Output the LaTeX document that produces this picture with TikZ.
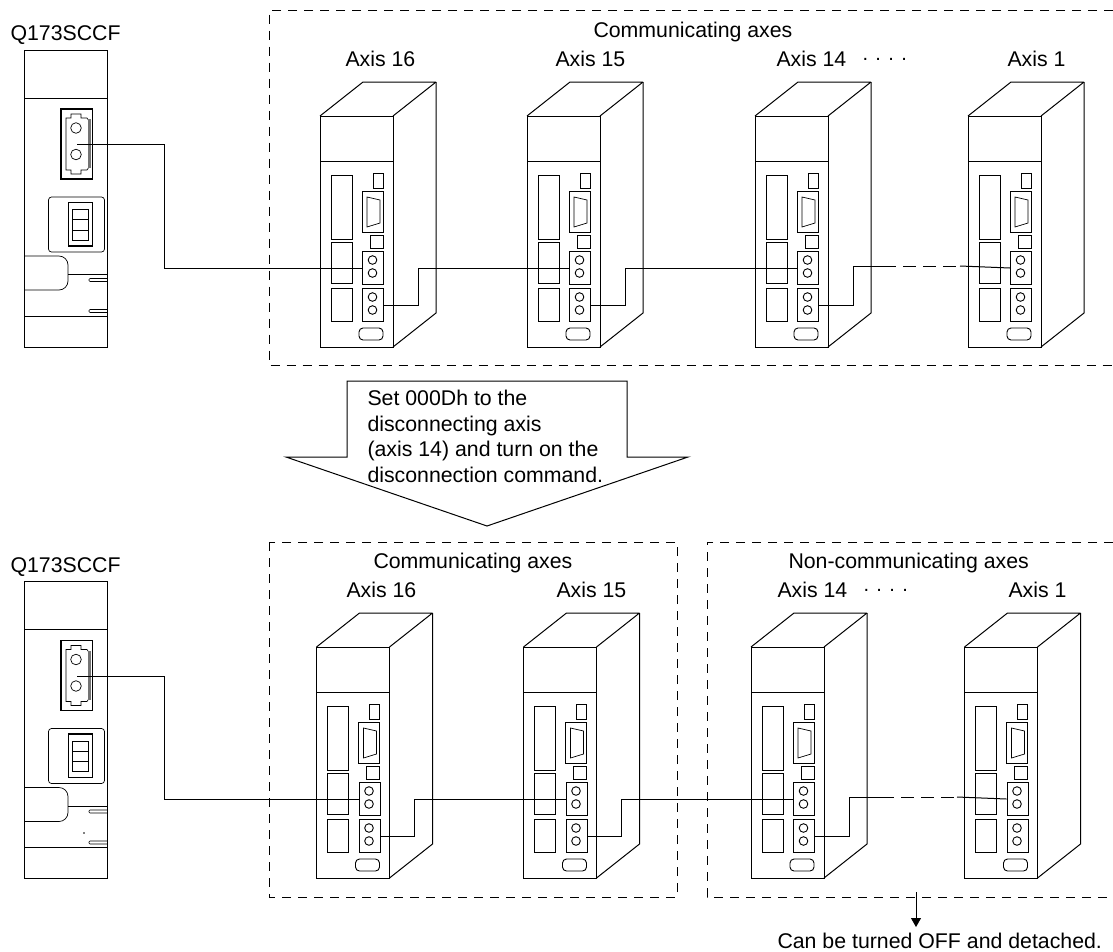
\documentclass[tikz,border=0pt]{standalone}
\usepackage{fontspec}
\setmainfont{Liberation Sans}
\usetikzlibrary{arrows.meta}

\begin{document}
\begin{tikzpicture}[
  x=1pt, y=-1pt,
  line width=1pt,
  texto/.style={font=\fontsize{21.3}{25.6}\selectfont, anchor=base west, inner sep=0pt},
  pontos/.style={font=\fontsize{20}{24}\selectfont, anchor=base west, inner sep=0pt},
  conector/.style={draw, rectangle, minimum width=21pt, minimum height=33pt, inner sep=0pt, anchor=north west},
  fio/.style={line width=1pt},
  tracejado/.style={line width=1pt, dash pattern=on 13pt off 7pt, dash phase=11pt},
  zona/.style={line width=0.8pt, dash pattern=on 9pt off 7pt},
  seta/.style={-{Triangle[length=9pt,width=10pt]}, line width=0.8pt},
  axisunit/.pic={
    \draw (0,0) rectangle (73,231);
    \draw[line join=bevel] (0,0) -- (43,-34) -- (116,-34) -- (73,0);
    \draw (116,-34) -- (116,197) -- (73,231);
    \draw (0,45) -- (73,45);
    % left slots
    \draw[line width=0.9pt] (11,59) rectangle (32,123);
    \draw[line width=0.9pt] (11,126) rectangle (32,167);
    \draw[line width=0.9pt] (11,172) rectangle (32,205);
    % right column
    \draw[line width=0.9pt] (53,57) rectangle (63,72);
    \draw[line width=0.9pt] (42,75) rectangle (63,116);
    \draw[line width=0.7pt] (47,81) -- (60,84) -- (60,107) -- (47,111) -- cycle;
    \draw[line width=0.9pt] (50,119) rectangle (63,132);
    \node[conector] (-in) at (42,135) {};
    \draw[line width=0.9pt] (52.5,144) circle (4.3) (52.5,157) circle (4.3);
    \node[conector] (-out) at (42,172) {};
    \draw[line width=0.9pt] (52.5,181) circle (4.3) (52.5,194) circle (4.3);
    \draw[line width=0.9pt, rounded corners=4pt] (39,212) rectangle (63,224);
  },
  ctrlunit/.pic={
    \draw (24,50) rectangle (107.5,347);
    \draw (24,98) -- (107.5,98);
    % jack
    \draw[line width=1.3pt] (61,109) rectangle (92.5,179);
    \draw[line width=0.6pt] (66,118) -- (71,118) -- (71,114) -- (81,114) -- (81,118) -- (87,118) -- (89,121)
      -- (89,167) -- (87,170) -- (81,170) -- (81,174) -- (71,174) -- (71,170) -- (66,170) -- cycle;
    \fill[black!55] (88,119) rectangle (90.5,168);
    \draw[line width=0.7pt] (76,128) circle (5.3) (76,154.5) circle (5.3);
    \coordinate (-jack) at (77,144.5);
    % switch
    \draw[line width=0.7pt, rounded corners=3pt] (48.5,197) rectangle (104.5,252);
    \draw[line width=1.1pt] (68.5,202.5) rectangle (92.5,246);
    \draw[line width=1pt] (72,209.5) rectangle (88.5,240) (72,219.5) -- (88.5,219.5) (72,230) -- (88.5,230);
    % lower tab
    \draw[line width=0.7pt, rounded corners=9pt] (24,256) -- (68,256) -- (68,290) -- (24,290);
    \draw (68,274.5) -- (107.5,274.5);
    \draw[line width=0.6pt, rounded corners=1pt] (107.5,278.5) -- (89,278.5) -- (89,281.5) -- (107.5,281.5);
    \draw[line width=0.6pt, rounded corners=1pt] (107.5,309.5) -- (89,309.5) -- (89,312.5) -- (107.5,312.5);
    \draw (24,316) -- (107.5,316);
  }
]
\useasboundingbox (0,0) rectangle (1113,951);

% ---------------- First state ----------------
\node[texto] (qa) at (10,40) {Q173SCCF};
\pic (ca) at (0,0) {ctrlunit};
\node[texto] (za) at (593,37) {Communicating axes};
\node[texto] (a16) at (345,66) {Axis 16};
\node[texto] (a15) at (555,66) {Axis 15};
\node[texto] (a14) at (776,66) {Axis 14};
\node[texto] (a1) at (1007,66) {Axis 1};
\node[pontos] (pa) at (862,60.5) {. . . .};

\pic (ua) at (320,116) {axisunit};
\pic (ub) at (527,116) {axisunit};
\pic (uc) at (755,116) {axisunit};
\pic (ud) at (968,116) {axisunit};

\draw[zona] (1113,10.5) -- (269,10.5) -- (269,365) -- (1113,365);

\coordinate (qgapa) at (894,266);
\coordinate (qgapb) at (960,266);
\draw[fio] (ca-jack) -- ++(87,0) |- (ua-in.west);
\draw[fio] (ua-out.east) -- ++(34,0) |- (ub-in.west);
\draw[fio] (ub-out.east) -- ++(34,0) |- (uc-in.west);
\draw[fio] (uc-out.east) -- ++(34,0) |- (qgapa);
\draw[tracejado] (qgapa) -- (qgapb);
\draw[fio] (qgapb) -- (ud-in.west);

% ---------------- Block arrow ----------------
\draw[line join=miter] (347,381) -- (627,381) -- (627,457) -- (688,457) -- (487,526) -- (286,457) -- (347,457) -- cycle;
\node[texto, align=left, anchor=north west] (cmd) at (367,389.5)
  {Set 000Dh to the\\disconnecting axis\\(axis 14) and turn on the\\disconnection command.};

% ---------------- Second state ----------------
\node[texto] (qb) at (10,572) {Q173SCCF};
\pic (cb) at (0,531.5) {ctrlunit};
\fill (84,833) circle (0.8);
\node[texto] (zb) at (373,568) {Communicating axes};
\node[texto] (zc) at (788,568) {Non-communicating axes};
\node[texto] (b16) at (346,597) {Axis 16};
\node[texto] (b15) at (556,597) {Axis 15};
\node[texto] (b14) at (777,597) {Axis 14};
\node[texto] (b1) at (1008,597) {Axis 1};
\node[pontos] (pb) at (863,591) {. . . .};

\pic (ue) at (316.5,647) {axisunit};
\pic (uf) at (523.5,647) {axisunit};
\pic (ug) at (751,647) {axisunit};
\pic (uh) at (964.5,647) {axisunit};

\draw[zona] (269,542) rectangle (677,897);
\draw[zona] (1113,542) -- (707,542) -- (707,897) -- (1113,897);

\coordinate (qgapc) at (892,797);
\coordinate (qgapd) at (957,797);
\draw[fio] (cb-jack) -- ++(87,0) |- (ue-in.west);
\draw[fio] (ue-out.east) -- ++(34,0) |- (uf-in.west);
\draw[fio] (uf-out.east) -- ++(34,0) |- (ug-in.west);
\draw[fio] (ug-out.east) -- ++(34,0) |- (qgapc);
\draw[tracejado] (qgapc) -- (qgapd);
\draw[fio] (qgapd) -- (uh-in.west);

\coordinate (qoff) at (916,892);
\coordinate (qofftip) at (916,927);
\node[texto] (off) at (777,948) {Can be turned OFF and detached.};
\draw[seta] (qoff) -- (qofftip);

\end{tikzpicture}
\end{document}
